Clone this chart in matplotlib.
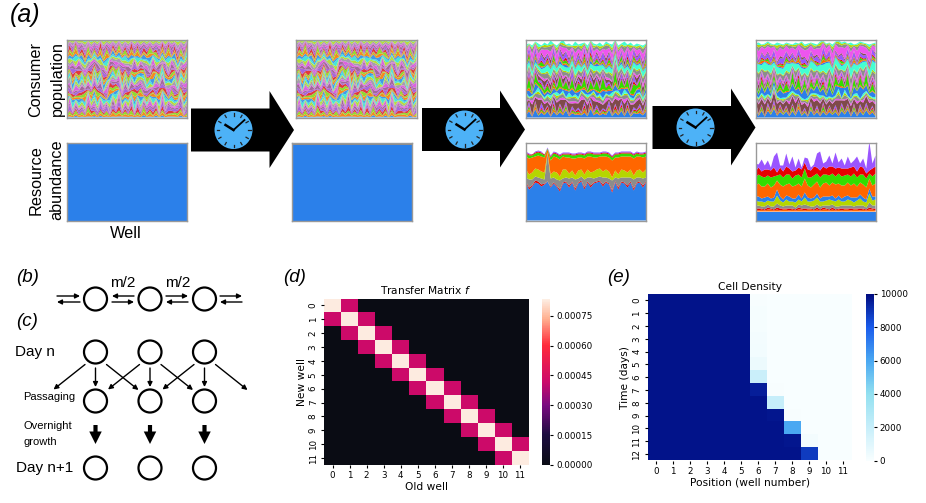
import numpy as np
import matplotlib
matplotlib.use("Agg")
import matplotlib.pyplot as plt
from matplotlib.colors import LinearSegmentedColormap
from matplotlib.patches import Circle, Polygon

W, H = 926, 503
SANS = "Liberation Sans"

# band colours, bottom to top they cycle
PALETTE = ["#2b80ea", "#ff6600", "#33dd00", "#e60000", "#9a55ff",
           "#7f4a4a", "#ee55ee", "#8c8c8c", "#b5d600", "#44ffd2"]
# the early panels read paler because the bands are so thin
PALETTE_PALE = ["#3f9ce8", "#f58a20", "#8fdc30", "#e03a3a", "#a865dc",
                "#a2689a", "#dc62e0", "#a79ab0", "#b6dc3c", "#48e6d6"]

# consumer abundance per well, one string per species, one digit per well
CONSUMER_START = [
    "2112112112 1211211121 1121121112 1211211211", "3232323423 2332342323 3242332323 2342332432",
    "2324132423 1324213243 2413242312 4231324213", "3142314251 3241532413 1425314253 1423514231",
    "2531425314 2635142531 4253614251 3526142536", "4213524132 5142351423 5241325142 3152413524",
    "1532413524 1352415324 1352413524 1532415231", "3425132415 3241532514 2315342513 2451324153",
    "5214352143 2514325142 5413251423 5142351423", "2351423514 3251435214 2351423154 2351432514",
    "4132541325 1432514235 1432541325 4135241325", "1425314251 4321532415 3241523142 5314253142",
    "3514253142 5314253415 2351425314 2315423514", "5231452314 2531452315 4235142531 4253142531",
    "2413524135 2413521435 1243514235 1423541352", "4352143521 3542135214 3521435214 3521435241",
    "1245312453 1245132451 3241532145 3214532154", "3512435124 3512435124 5312453124 5314253124",
    "2143521435 2143521345 2143521435 2143521435", "5324153241 5342153241 5342135421 3542135421",
    "3152431524 3152431524 3152431254 3152431524", "1435214352 1435241352 1435241352 1435241352",
    "4521345213 4521345213 4523145213 4521342513", "2143521435 2134521435 2145321435 2145321453",
    "3254132541 3254132541 3254132514 3254132514", "5132451324 5132451324 5132415324 5132415324",
    "1423514235 1425314235 1425314253 1425341253", "4351243512 4351243512 4351243512 4315243512",
    "2514325143 2514325143 2514325134 2514325134", "3125431254 3125431254 3125413254 3125413254",
    "5342153421 5342153421 5342153421 5342153412", "2435124351 2435124351 2435124351 2435124351",
    "1253412534 1253412534 1253412534 1253412543", "4512345123 4512345123 4513245123 4513245123",
    "3241532415 3241532415 3241532415 3241532415", "3423342334 2334233423 3423342333 4233423342",
    "2322322232 3222322322 3223222322 3222322232", "3232323223 2323223232 3223232323 2323223232",
    "2322232223 2232223222 3222322232 2232223222", "2222222222 2222222222 2222222222 2222222222",
]

CONSUMER_MID = [
    "4535434534 5345434353 4543534543 4535345354", "1212112112 1121211212 1121212111 2121211212",
    "1211212112 1212112121 2112112121 1211212112", "1121211212 1121211212 1211212112 1212112121",
    "2321232123 2132321232 1232312321 2312321232", "7586957486 8695748695 7486957586 9574869758",
    "2132132123 1322132132 2132213213 2132132213", "3425342534 2534253425 3425342534 2534253425",
    "1211211121 2112112112 1121211211 2112112112", "2312312231 3122312312 2312231231 2231231223",
    "3425134253 1425342513 4253142534 2513425314", "1211212112 1121211212 1121211212 1121211211",
    "4625735462 5736452746 3527463527 4625374625", "1211211212 1121211212 1121211211 2121121121",
    "2342324232 4232342324 2342324232 3423242342", "4352435243 5243524352 4352435243 5243524352",
    "2132132123 1321321321 3213213213 2132132132", "3546354635 4635463546 3546354635 4635463546",
    "1211211211 2112112112 1121121121 1211211212", "5747364758 4736475847 3647584736 4758473647",
    "1212112121 1212112121 1212112121 1212112121", "1121211212 1121211212 1121211212 1121211212",
    "2321232123 2132321232 1232312321 2312321232", "1211211211 2112112112 1211211211 2112112121",
    "5463546354 6354635463 5463546354 6354635463", "2132132132 1321321321 3213213213 2132132132",
    "6574657465 7465746574 6574657465 7465746574", "2342342342 3423423423 4234234234 2342342342",
    "2212212212 2122122122 1221221221 2212212212", "3121312131 2131213121 3121312131 2131213121",
]

CONSUMER_END = [
    "5453545435 4543545354 4535454354 5453545435", "1211211211 1211211211 1211211211 1211211211",
    "1121121112 1121121121 1121121121 1121121112", "1112111211 1211121112 1112111211 1211121112",
    "1211212112 1212112121 2112112121 1211212112", "9878979789 9797889789 7898987978 9878979889",
    "2121212121 1212121212 2121212121 1212121212", "2322323223 2323223232 3223232323 2323223232",
    "1121211212 1121211212 1121211212 1121211211", "2122122122 1221221221 2212212212 2122122122",
    "5746574658 4657468546 5746857465 7465874657", "1112111211 1211121112 1112111211 1211121112",
    "4635274635 6274635247 3625746352 7463527463", "1121112111 2111211121 1121112111 2111211121",
    "2423242324 2324232423 2423242324 2324232423", "1322132213 2213221322 1322132213 2213221322",
    "2324232423 2423242324 2324232423 2423242324", "4546454645 4645464546 4546454645 4645464546",
    "1121112111 2111211121 1121112111 2111211121", "8697869786 9786978697 8697869786 9786978697",
    "1112111211 1211121112 1112111211 1211121112", "1121211212 1121211212 1121211212 1121211212",
    "1211211211 2112112112 1121121121 1211211212", "1112111211 1211121112 1112111211 1211121112",
    "4635463546 3546354635 4635463546 3546354635", "2121212121 1212121212 2121212121 1212121212",
    "8797889788 9788978897 8897889788 9788978897", "2322323223 2323223232 3223232323 2323223232",
    "2212212212 2122122122 1221221221 2212212212", "1211211211 2112112112 1121121121 1211211212",
]

# how thick each sixth of the stack reads at each well, these give the zigzag
SWELL_EARLY = [
    "1827361948 2736185927 3816294738 1928364715",
    "8172639158 7261948172 6283715261 8271635284",
    "2918371629 3817162938 1729384617 2938172649",
    "7283916274 6182739172 8271639281 7162839152",
    "1739264817 2948163729 3816274918 2739184627",
    "8261739284 7193826173 6182739264 8172639381",
]
SWELL_LATE = [
    "3718294617 2839174628 1937264819 3728164927",
    "7192837461 8271936482 7182639174 8193726481",
    "1938274618 3728194637 2817396428 1729384615",
    "8271639482 6193728461 7382916473 8261739482",
    "2739184627 1849273618 3927184635 2718394628",
    "6182739481 8273619482 6173829461 7392816473",
]
# top of the stack per well, pixels of panel height
TOP_MID = [73, 74, 72, 76, 74, 72, 75, 73, 77, 74, 72, 75, 78, 73, 74, 72, 76, 73, 74, 75,
           72, 77, 74, 73, 75, 72, 76, 74, 73, 78, 72, 74, 76, 73, 75, 72, 74, 73, 72, 74]
TOP_END = [74, 75, 73, 74, 76, 74, 73, 75, 74, 73, 75, 74, 73, 75, 74, 76, 73, 74, 75, 74,
           73, 76, 77, 74, 75, 73, 76, 77, 75, 76, 74, 75, 73, 74, 76, 75, 74, 73, 74, 75]

# resource abundance per well, pixels of panel height, panel 3
R3_BLUE = [38, 31, 34, 38, 37, 34, 36, 39, 33, 37, 34, 29, 37, 38, 33, 38, 30, 37, 39, 31,
           38, 33, 37, 38, 39, 34, 38, 36, 28, 38, 31, 38, 37, 33, 38, 30, 37, 38, 33, 38]
R3_RED = [1, 2, 1, 2, 2, 2, 1, 0, 1, 1, 1, 2, 1, 1, 2, 1, 2, 1, 1, 2,
          1, 2, 1, 1, 1, 2, 1, 1, 2, 1, 2, 1, 1, 2, 1, 2, 1, 1, 2, 1]
R3_GRAY = [4, 8, 6, 4, 4, 6, 4, 28, 8, 5, 6, 9, 4, 4, 7, 4, 9, 4, 4, 8,
           4, 8, 4, 4, 4, 7, 4, 5, 10, 4, 9, 4, 5, 8, 4, 9, 5, 4, 7, 4]
R3_OLIVE = [8, 5, 7, 8, 8, 7, 7, 1, 4, 6, 7, 4, 9, 8, 5, 7, 4, 8, 7, 5,
            8, 5, 7, 8, 8, 6, 8, 7, 3, 7, 4, 8, 7, 5, 8, 4, 7, 8, 6, 8]
R3_ORANGE = [13, 16, 15, 12, 14, 15, 15, 3, 14, 15, 15, 17, 13, 12, 16, 12, 17, 13, 12, 16,
             13, 16, 14, 12, 12, 15, 13, 14, 17, 13, 17, 13, 14, 16, 13, 17, 14, 13, 15, 13]
R3_GREEN = [3, 3, 2, 3, 3, 3, 2, 1, 3, 3, 3, 3, 2, 3, 3, 3, 3, 3, 3, 3,
            3, 3, 3, 3, 2, 3, 3, 3, 3, 3, 3, 3, 3, 3, 3, 3, 3, 2, 3, 3]
R3_CRIMSON = [1, 1, 1, 1, 1, 1, 1, 0, 1, 1, 1, 1, 1, 1, 1, 1, 1, 1, 1, 1,
              1, 1, 1, 1, 1, 1, 1, 1, 1, 1, 1, 1, 1, 1, 1, 1, 1, 1, 1, 1]
R3_PURPLE = [1, 1, 0, 1, 1, 1, 0, 1, 1, 1, 1, 1, 1, 1, 1, 1, 1, 1, 1, 1,
             1, 1, 1, 1, 1, 1, 1, 1, 1, 1, 1, 1, 1, 1, 1, 1, 1, 1, 1, 1]

# panel 4
R4_BLUE = [9, 9, 9, 9, 9, 9, 9, 9, 9, 9, 9, 9, 9, 9, 9, 9, 9, 9, 9, 9,
           9, 9, 9, 9, 9, 9, 9, 9, 9, 9, 9, 9, 9, 9, 9, 9, 9, 9, 9, 9]
R4_THIN_ORANGE = [2, 1, 2, 1, 2, 2, 1, 2, 1, 2, 2, 1, 2, 1, 2, 2, 1, 2, 2, 1,
                  2, 1, 2, 2, 1, 2, 1, 2, 1, 2, 2, 1, 2, 2, 1, 2, 1, 2, 2, 1]
R4_THIN_RED = [1, 2, 1, 1, 2, 1, 1, 2, 2, 1, 1, 2, 1, 1, 2, 1, 2, 1, 1, 1,
               2, 1, 2, 1, 1, 2, 1, 1, 2, 1, 1, 2, 1, 1, 2, 1, 1, 2, 1, 2]
R4_THIN_GRAY = [3, 3, 2, 3, 3, 2, 3, 4, 3, 2, 3, 3, 3, 2, 3, 3, 4, 3, 2, 3,
                3, 3, 2, 3, 4, 3, 3, 2, 3, 3, 3, 3, 2, 3, 3, 3, 2, 5, 3, 3]
R4_OLIVE = [5, 4, 5, 4, 4, 5, 5, 8, 5, 4, 6, 4, 4, 5, 5, 4, 7, 4, 5, 6,
            7, 5, 4, 5, 6, 4, 5, 7, 4, 4, 6, 5, 4, 5, 7, 4, 5, 9, 5, 6]
R4_SKY = [4, 5, 3, 5, 4, 3, 4, 6, 4, 3, 4, 5, 3, 4, 5, 3, 5, 4, 3, 3,
          4, 3, 5, 4, 3, 5, 3, 4, 3, 5, 4, 3, 5, 3, 4, 4, 3, 5, 4, 3]
R4_ORANGE = [11, 13, 12, 11, 13, 11, 12, 9, 12, 13, 11, 13, 12, 13, 11, 12, 14, 12, 11, 13,
             12, 11, 13, 14, 11, 13, 14, 12, 13, 11, 13, 12, 14, 11, 12, 13, 12, 10, 11, 13]
R4_GREEN = [8, 9, 10, 9, 8, 10, 9, 5, 10, 9, 10, 9, 8, 10, 9, 9, 10, 8, 10, 9,
            8, 10, 9, 8, 10, 9, 8, 10, 9, 10, 8, 9, 10, 9, 8, 10, 9, 5, 9, 10]
R4_CRIMSON = [6, 7, 5, 8, 6, 7, 9, 3, 7, 6, 8, 6, 7, 5, 7, 8, 6, 8, 7, 9,
              6, 7, 8, 6, 9, 7, 8, 6, 8, 7, 6, 9, 7, 6, 8, 7, 5, 3, 8, 7]
R4_PURPLE = [8, 3, 12, 4, 9, 3, 11, 20, 2, 6, 13, 4, 15, 3, 9, 2, 5, 11, 3, 2,
             14, 19, 3, 7, 11, 3, 16, 5, 10, 3, 12, 4, 6, 15, 3, 9, 5, 29, 5, 11]
R4_BANDS = [R4_BLUE, R4_THIN_ORANGE, R4_THIN_RED, R4_THIN_GRAY, R4_OLIVE, R4_SKY,
            R4_ORANGE, R4_GREEN, R4_CRIMSON, R4_PURPLE]
R4_COLORS = [0, 1, 3, 7, 8, 0, 1, 2, 3, 4]
R3_BANDS = [R3_BLUE, R3_RED, R3_GRAY, R3_OLIVE, R3_ORANGE, R3_GREEN, R3_CRIMSON, R3_PURPLE]
R3_COLORS = [0, 3, 7, 8, 1, 2, 3, 4]

# heatmaps
WELLS = list(range(12))
DAYS = list(range(13))
F_DIAGONAL = 0.00083
F_NEIGHBOUR = 0.00042
F_TICKS = [0.0, 0.00015, 0.0003, 0.00045, 0.0006, 0.00075]
F_COLORS = [(0.0, "#0a0c14"), (0.18, "#1d0c40"), (0.36, "#7a0a80"), (0.5, "#cc0a6a"),
            (0.72, "#ff2a3a"), (0.88, "#ffb090"), (1.0, "#fdf0e6")]

DENSITY = [
    [9800, 9800, 9800, 9800, 9800, 9800, 50, 10, 10, 10, 10, 10],
    [9800, 9800, 9800, 9800, 9800, 9800, 120, 10, 10, 10, 10, 10],
    [9800, 9800, 9800, 9800, 9800, 9800, 150, 10, 10, 10, 10, 10],
    [9800, 9800, 9800, 9800, 9800, 9800, 200, 10, 10, 10, 10, 10],
    [9800, 9800, 9800, 9800, 9800, 9800, 250, 10, 10, 10, 10, 10],
    [9800, 9800, 9800, 9800, 9800, 9800, 500, 10, 10, 10, 10, 10],
    [9800, 9800, 9800, 9800, 9800, 9800, 1800, 10, 10, 10, 10, 10],
    [9800, 9800, 9800, 9800, 9800, 9800, 9500, 60, 10, 10, 10, 10],
    [9800, 9800, 9800, 9800, 9800, 9800, 9800, 2000, 10, 10, 10, 10],
    [9800, 9800, 9800, 9800, 9800, 9800, 9800, 9700, 40, 10, 10, 10],
    [9800, 9800, 9800, 9800, 9800, 9800, 9800, 9800, 6000, 10, 10, 10],
    [9800, 9800, 9800, 9800, 9800, 9800, 9800, 9800, 9700, 200, 10, 10],
    [9800, 9800, 9800, 9800, 9800, 9800, 9800, 9800, 9800, 8800, 10, 10],
]
DENSITY_TICKS = [0, 2000, 4000, 6000, 8000, 10000]
DENSITY_COLORS = ["#f8feff", "#c6eefa", "#92e0f0", "#4aa8f2", "#1a5cec", "#000c80"]


def px_axes(fig, x0, y0, x1, y1, **kw):
    return fig.add_axes([x0 / W, 1 - y1 / H, (x1 - x0) / W, (y1 - y0) / H], **kw)


def digits(rows):
    return np.array([[int(c) for c in r.replace(" ", "")] for r in rows], dtype=float)


def swollen(rows, swell):
    # thicken or thin each sixth of the stack, well by well
    bands = digits(rows)
    factors = 0.2 + 0.22 * digits(swell)
    groups = [i * 6 // len(bands) for i in range(len(bands))]
    return bands * factors[groups]


def stack_panel(fig, box, bands, colors, tops=None):
    ax = px_axes(fig, *box)
    bands = np.asarray(bands, dtype=float)
    if tops is not None:
        bands = bands / bands.sum(axis=0) * np.asarray(tops, dtype=float)
    ax.stackplot(np.arange(bands.shape[1]), bands, colors=colors, linewidth=0)
    ax.set_xlim(0, bands.shape[1] - 1)
    ax.set_ylim(0, 78)
    ax.set_xticks([])
    ax.set_yticks([])
    for s in ax.spines.values():
        s.set_color("#999999")
        s.set_linewidth(1.0)
    return ax


def clock_arrow(ax, x0, xh, xt, yc, clock_x):
    pts = [(x0, yc - 21.5), (xh, yc - 21.5), (xh, yc - 39), (xt, yc), (xh, yc + 38),
           (xh, yc + 21.5), (x0, yc + 21.5)]
    ax.add_patch(Polygon(pts, closed=True, color="black", lw=0))
    ax.add_patch(Circle((clock_x, yc), 19, color="#4db2f7", lw=0))
    for i in range(12):
        a = i * np.pi / 6
        ax.plot([clock_x + 14.5 * np.cos(a), clock_x + 17 * np.cos(a)],
                [yc + 14.5 * np.sin(a), yc + 17 * np.sin(a)], color="#222222", lw=0.9)
    ax.plot([clock_x - 8, clock_x], [yc - 5, yc], color="black", lw=1.8)
    ax.plot([clock_x + 11, clock_x], [yc - 10, yc], color="black", lw=1.3)


def arrow(ax, start, end, lw=1.0, scale=7):
    ax.annotate("", xy=end, xytext=start,
                arrowprops=dict(arrowstyle="-|>", color="black", lw=lw, mutation_scale=scale,
                                shrinkA=0, shrinkB=0))


def heat_axis(ax, title, xlabel, ylabel, xt, yt):
    ax.set_xticks(range(len(xt)))
    ax.set_xticklabels(xt, fontsize=6.3)
    ax.set_yticks(range(len(yt)))
    ax.set_yticklabels(yt, fontsize=6.3, rotation=90, va="center")
    ax.tick_params(length=2.5, width=0.8, pad=2)
    ax.set_title(title, fontsize=7.7, pad=3)
    ax.set_xlabel(xlabel, fontsize=7.7, labelpad=1)
    ax.set_ylabel(ylabel, fontsize=7.7, labelpad=1.5)
    for s in ax.spines.values():
        s.set_visible(False)


def style_cbar(cb, labels):
    cb.outline.set_visible(False)
    cb.set_ticks(labels[0])
    cb.set_ticklabels(labels[1])
    cb.ax.tick_params(labelsize=6.3, length=2.5, width=0.8, pad=2)


def main():
    fig = plt.figure(figsize=(W / 100, H / 100), dpi=100)
    bg = fig.add_axes([0, 0, 1, 1], zorder=0)
    bg.set_xlim(0, W)
    bg.set_ylim(H, 0)
    bg.axis("off")

    # (a) stacks
    start = swollen(CONSUMER_START, SWELL_EARLY)
    mid = swollen(CONSUMER_MID, SWELL_LATE)
    end = swollen(CONSUMER_END, SWELL_EARLY[::-1])
    pale = [PALETTE_PALE[i % 10] for i in range(len(start))]
    cycle = [PALETTE[i % 10] for i in range(len(mid))]
    flat = [78] * start.shape[1]
    stack_panel(fig, (66.5, 39.5, 187, 117.5), start, pale, flat)
    stack_panel(fig, (296, 39.5, 416.5, 117.5), start, pale, flat)
    stack_panel(fig, (526, 39.5, 646, 117.5), mid, cycle, TOP_MID)
    stack_panel(fig, (755.5, 39.5, 875.5, 117.5), end, cycle, TOP_END)

    stack_panel(fig, (66.5, 142.5, 187, 220.5), [[78, 78]], [PALETTE[0]])
    stack_panel(fig, (292, 142.5, 412, 220.5),
                [[75.5, 75.5, 75.5], [1, 1, 1], [1.5, 1.5, 1.5]],
                [PALETTE[0], PALETTE[7], "#b9944a"])
    stack_panel(fig, (526, 142.5, 646, 220.5), R3_BANDS, [PALETTE[i] for i in R3_COLORS])
    stack_panel(fig, (755.5, 142.5, 875.5, 220.5), R4_BANDS, [PALETTE[i] for i in R4_COLORS])

    clock_arrow(bg, 191, 269.5, 294, 130, 233.5)
    clock_arrow(bg, 422, 500, 525, 129.5, 464.5)
    clock_arrow(bg, 652.5, 731, 755.5, 127.5, 695.5)

    for txt, y in [("Consumer", 36), ("population", 57)]:
        bg.text(y, 79, txt, rotation=90, ha="center", va="center", fontsize=11.7, family=SANS)
    for txt, y in [("Resource", 36), ("abundance", 57)]:
        bg.text(y, 180, txt, rotation=90, ha="center", va="center", fontsize=11.7, family=SANS)
    bg.text(126, 233, "Well", ha="center", va="center", fontsize=11.7, family=SANS)

    for txt, x, y, fs in [("(a)", 10, 15, 18), ("(b)", 16, 277, 13.5), ("(c)", 16, 322, 13.5),
                          ("(d)", 283, 277, 13.5), ("(e)", 607, 277, 13.5)]:
        bg.text(x, y, txt, style="italic", ha="left", va="center", fontsize=fs, family=SANS)

    # (b) and (c) schematic
    cols = [95.5, 150, 204.5]
    for x in cols:
        for y in [299, 352, 401, 468]:
            bg.add_patch(Circle((x, y), 11.5, fill=False, ec="black", lw=1.6))
    for x0, x1, top_right in [(57, 80, True), (112, 134, False), (166, 188, True), (220, 242, True)]:
        a, b = (x0, x1) if top_right else (x1, x0)
        arrow(bg, (a, 296), (b, 296))
        arrow(bg, (b, 302), (a, 302))
    bg.text(123, 283, "m/2", ha="center", va="center", fontsize=11, family=SANS)
    bg.text(178, 283, "m/2", ha="center", va="center", fontsize=11, family=SANS)

    for x in cols:
        arrow(bg, (x - 10.5, 364.5), (x - 42, 389.5))
        arrow(bg, (x, 368), (x, 387))
        arrow(bg, (x + 11, 364.5), (x + 43, 390))
        bg.annotate("", xy=(x, 444), xytext=(x, 425),
                    arrowprops=dict(width=3, headwidth=9, headlength=9, color="black", lw=0,
                                    shrink=0))

    bg.text(15, 352, "Day n", va="center", fontsize=11, family=SANS)
    bg.text(16, 468, "Day n+1", va="center", fontsize=11, family=SANS)
    bg.text(23, 397, "Passaging", va="center", fontsize=8, family=SANS)
    bg.text(23, 426, "Overnight", va="center", fontsize=8, family=SANS)
    bg.text(23, 442, "growth", va="center", fontsize=8, family=SANS)

    # (d) transfer matrix
    transfer = np.zeros((12, 12))
    for i in WELLS:
        transfer[i, i] = F_DIAGONAL
        if i < 11:
            transfer[i, i + 1] = F_NEIGHBOUR
            transfer[i + 1, i] = F_NEIGHBOUR
    ax_d = px_axes(fig, 324, 298.5, 528.5, 465)
    cmap_d = LinearSegmentedColormap.from_list("transfer", F_COLORS)
    im = ax_d.imshow(transfer, cmap=cmap_d, aspect="auto", vmin=0, vmax=F_DIAGONAL * 1.008,
                     interpolation="nearest")
    heat_axis(ax_d, "Transfer Matrix $f$", "Old well", "New well", WELLS, WELLS)
    cax_d = px_axes(fig, 541.5, 298.5, 550, 465)
    style_cbar(fig.colorbar(im, cax=cax_d), (F_TICKS, [f"{v:.5f}" for v in F_TICKS]))

    # (e) cell density
    cmap_e = LinearSegmentedColormap.from_list("density", DENSITY_COLORS)
    ax_e = px_axes(fig, 647.5, 294, 851.5, 460.5)
    im = ax_e.imshow(np.array(DENSITY), cmap=cmap_e, aspect="auto", vmin=0, vmax=10000,
                     interpolation="nearest")
    heat_axis(ax_e, "Cell Density", "Position (well number)", "Time (days)", WELLS, DAYS)
    cax_e = px_axes(fig, 865.5, 294, 873.5, 460.5)
    style_cbar(fig.colorbar(im, cax=cax_e), (DENSITY_TICKS, [str(v) for v in DENSITY_TICKS]))

    fig.savefig("out.png", dpi=100)
    plt.close(fig)


if __name__ == "__main__":
    main()
